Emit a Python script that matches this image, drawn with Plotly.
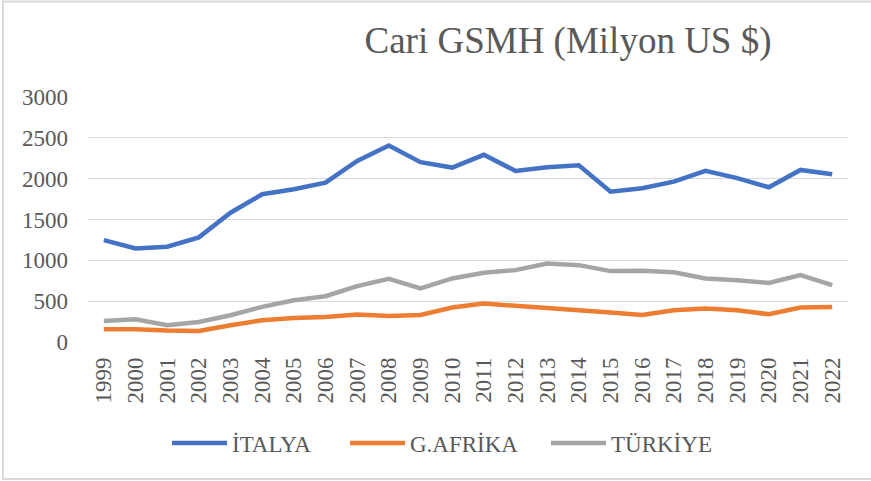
import plotly.graph_objects as go

years = [str(y) for y in range(1999, 2023)]
italya = [1248, 1146, 1166, 1281, 1583, 1809, 1870, 1952, 2218, 2406, 2202, 2136,
          2292, 2095, 2141, 2165, 1841, 1883, 1964, 2095, 2006, 1895, 2107, 2055]
gafrika = [156, 156, 140, 135, 205, 266, 295, 307, 336, 319, 332, 422,
           471, 442, 405, 389, 361, 332, 389, 410, 389, 340, 422, 430]
turkiye = [258, 279, 205, 246, 328, 430, 512, 561, 684, 774, 655, 778,
           847, 880, 962, 941, 868, 872, 855, 778, 757, 724, 819, 696]

series_names = ["İTALYA", "G.AFRİKA", "TÜRKİYE"]
series_colors = ["#4472C4", "#ED7D31", "#A5A5A5"]
title_text = "Cari GSMH (Milyon US $)"

FONT = "Liberation Serif"
TXT = "#595959"

W, H = 871, 481
L, R, T, B = 88, 23, 97, 139
pw, ph = W - L - R, H - T - B

def px_x(p):
    return (p - L) / pw

def px_y(p):
    return (H - B - p) / ph

legend_ids = ["legend", "legend2", "legend3"]
legend_starts = [167, 345, 546]

fig = go.Figure()
for name, vals, col, lid in zip(series_names, [italya, gafrika, turkiye], series_colors, legend_ids):
    fig.add_trace(go.Scatter(x=years, y=vals, name=name, mode="lines",
                             line=dict(color=col, width=4.5), legend=lid))

legend_layout = {}
for lid, xs in zip(legend_ids, legend_starts):
    legend_layout[lid] = dict(orientation="h", x=px_x(xs), xanchor="left",
                              y=px_y(443), yanchor="middle",
                              font=dict(family=FONT, size=23, color=TXT),
                              itemwidth=55, bgcolor="rgba(0,0,0,0)",
                              borderwidth=0)

fig.update_layout(
    width=W, height=H,
    margin=dict(l=L, r=R, t=T, b=B),
    paper_bgcolor="white", plot_bgcolor="white",
    font=dict(family=FONT, color=TXT, size=23),
    title=dict(text=title_text, font=dict(family=FONT, size=37, color=TXT),
               x=px_x(568), xref="paper", xanchor="center",
               y=1 - 40 / H, yref="container", yanchor="middle"),
    showlegend=True,
    xaxis=dict(type="category", range=[-0.5, 23.5], showgrid=False,
               showline=False, zeroline=False, tickangle=-90, ticks="",
               ticklabelstandoff=10, automargin=False,
               tickfont=dict(family=FONT, size=23, color=TXT)),
    yaxis=dict(range=[0, 3000], dtick=500, showgrid=True, gridcolor="#D9D9D9",
               gridwidth=1.3, zeroline=False, showline=False, ticks="",
               ticklabelstandoff=19, automargin=False,
               tickfont=dict(family=FONT, size=23, color=TXT)),
    shapes=[dict(type="rect", xref="paper", yref="paper",
                 x0=px_x(3), x1=px_x(874), y0=px_y(479), y1=px_y(1.5),
                 line=dict(color="#D9D9D9", width=2), fillcolor="rgba(0,0,0,0)",
                 layer="below")],
    **legend_layout,
)

fig.write_html("out.html", config={"displayModeBar": False},
               post_script="document.body.style.margin='0';")
